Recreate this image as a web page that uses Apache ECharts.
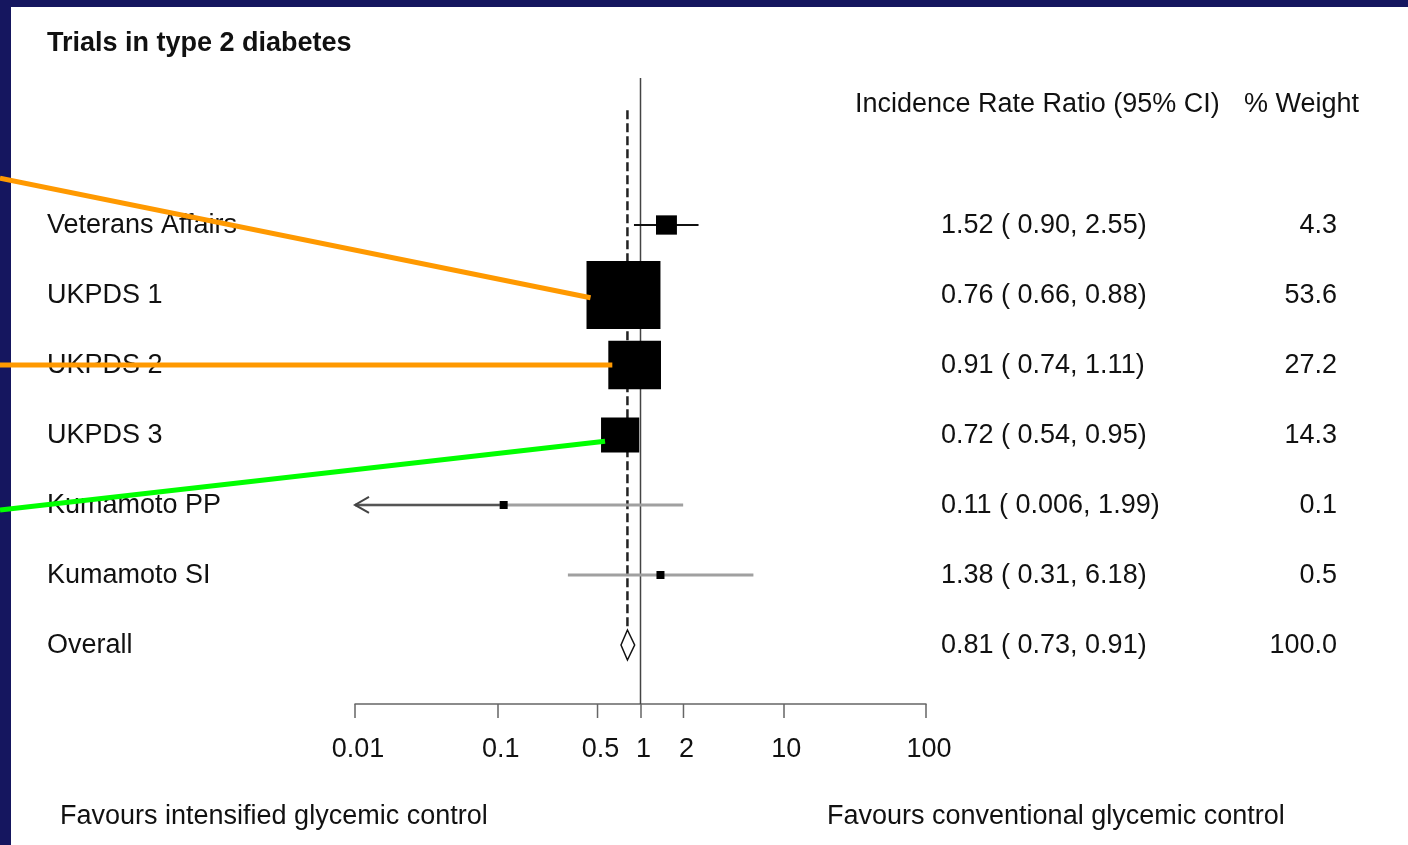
<!DOCTYPE html>
<html>
<head>
<meta charset="utf-8">
<script src="https://cdn.jsdelivr.net/npm/echarts@6/dist/echarts.min.js"></script>
<style>
  html, body { margin: 0; padding: 0; background: #15165f; overflow: hidden; }
  #panel { position: absolute; left: 11px; top: 7px; width: 1397px; height: 838px; background: #ffffff; }
  #chart { position: absolute; left: 0; top: 0; width: 1408px; height: 845px; }
</style>
</head>
<body>
<div id="panel"></div>
<div id="chart"></div>
<script>
// ---------------- data ----------------
const studies = ['Veterans Affairs', 'UKPDS 1', 'UKPDS 2', 'UKPDS 3', 'Kumamoto PP', 'Kumamoto SI'];
const irr     = [1.52, 0.76, 0.91, 0.72, 0.11, 1.38];
const lower   = [0.90, 0.66, 0.74, 0.54, 0.006, 0.31];
const upper   = [2.55, 0.88, 1.11, 0.95, 1.99, 6.18];
const weight  = [4.3, 53.6, 27.2, 14.3, 0.1, 0.5];

const overallLabel  = 'Overall';
const overallIrr    = 0.81;
const overallLower  = 0.73;
const overallUpper  = 0.91;
const overallWeight = 100.0;

const extraTicks = [0.5, 2];          // ticks besides the powers of ten
const nullValue  = 1;                 // line of no effect

const titleText   = 'Trials in type 2 diabetes';
const headerIrr   = 'Incidence Rate Ratio (95% CI)';
const headerW     = '% Weight';
const favoursLeft  = 'Favours intensified glycemic control';
const favoursRight = 'Favours conventional glycemic control';

// annotation pointers (overlay lines pointing at study boxes)
const annotTarget  = [1, 2, 3];              // study index pointed at
const annotFromRow = [-0.67, 2.0, 4.07];     // row position at the left edge
const annotToDRow  = [0.04, 0.0, 0.09];      // row offset at the box end
const annotColor   = ['#ff9900', '#ff9900', '#00ff00'];

// ---------------- layout ----------------
const FONT_FAMILY = '"Liberation Sans", Arial, Helvetica, sans-serif';
const FS = 27;
const FONT = FS + 'px ' + FONT_FAMILY;
const XMIN = 0.01, XMAX = 100;
const ROW_MIN = -2.1, ROW_MAX = 6.843;
const DASH_TOP_ROW = -1.64;
const TICK_LEN = 14, LABEL_MARGIN = 32;
const BOX_KW = 10.1, BOX_KH = 9.3, BOX_MINW = 8, BOX_MINH = 8;
const DIAMOND_HALF = 15;
const COL_LABEL = 47, COL_IRR = 941, COL_W = 1337;
const TEXT_DY = 1;

function fmt(v) { return v < 0.01 ? v.toFixed(3) : v.toFixed(2); }
function ciText(e, l, u) { return fmt(e) + ' ( ' + fmt(l) + ', ' + fmt(u) + ')'; }

function rowTexts(label, e, l, u, w, y) {
  return [
    { type: 'text', style: { text: label, x: COL_LABEL, y: y + TEXT_DY, align: 'left', verticalAlign: 'middle', font: FONT, fill: '#111' } },
    { type: 'text', style: { text: ciText(e, l, u), x: COL_IRR, y: y + TEXT_DY, align: 'left', verticalAlign: 'middle', font: FONT, fill: '#111' } },
    { type: 'text', style: { text: w.toFixed(1), x: COL_W, y: y + TEXT_DY, align: 'right', verticalAlign: 'middle', font: FONT, fill: '#111' } }
  ];
}

function boxSize(w) {
  return [Math.max(BOX_KW * Math.sqrt(w), BOX_MINW), Math.max(BOX_KH * Math.sqrt(w), BOX_MINH)];
}

function renderStudy(params, api) {
  const i = params.dataIndex;
  const e = api.value(0), row = api.value(1), l = api.value(2), u = api.value(3), w = api.value(4);
  const c = api.coord([e, row]);
  const pl = api.coord([Math.max(l, XMIN), row]);
  const pu = api.coord([Math.min(u, XMAX), row]);
  const sz = boxSize(w);
  const small = w < 1;
  const children = [];
  children.push({ type: 'line', shape: { x1: pl[0], y1: c[1], x2: pu[0], y2: c[1] },
    style: { stroke: small ? '#a0a0a0' : '#111', lineWidth: small ? 3 : 2 } });
  if (l < XMIN) {
    children.push({ type: 'line', shape: { x1: pl[0], y1: c[1], x2: c[0] - sz[0] / 2, y2: c[1] },
      style: { stroke: '#555', lineWidth: 2 } });
    children.push({ type: 'polyline', shape: { points: [[pl[0] + 14, c[1] - 8], [pl[0], c[1]], [pl[0] + 14, c[1] + 8]] },
      style: { stroke: '#444', lineWidth: 2, fill: null } });
  }
  children.push({ type: 'rect', shape: { x: c[0] - sz[0] / 2, y: c[1] - sz[1] / 2, width: sz[0], height: sz[1] },
    style: { fill: '#000' } });
  return { type: 'group', children: children.concat(rowTexts(studies[i], e, l, u, w, c[1])) };
}

function renderOverall(params, api) {
  const e = api.value(0), row = api.value(1), l = api.value(2), u = api.value(3), w = api.value(4);
  const c = api.coord([e, row]);
  const pl = api.coord([l, row]);
  const pu = api.coord([u, row]);
  const top = api.coord([e, DASH_TOP_ROW]);
  return { type: 'group', children: [
    { type: 'line', shape: { x1: c[0], y1: top[1], x2: c[0], y2: c[1] - DIAMOND_HALF },
      style: { stroke: '#222', lineWidth: 2.5, lineDash: [9, 4] } },
    { type: 'polygon', shape: { points: [[pl[0], c[1]], [c[0], c[1] - DIAMOND_HALF], [pu[0], c[1]], [c[0], c[1] + DIAMOND_HALF]] },
      style: { fill: '#fff', stroke: '#111', lineWidth: 1.5 } }
  ].concat(rowTexts(overallLabel, e, l, u, w, c[1])) };
}

function renderNullLine(params, api) {
  const v = api.value(0);
  const a = api.coord([v, ROW_MIN]);
  const b = api.coord([v, ROW_MAX]);
  return { type: 'line', shape: { x1: a[0], y1: a[1], x2: b[0], y2: b[1] },
    style: { stroke: '#444', lineWidth: 1.5 } };
}

function renderTick(params, api) {
  const v = api.value(0);
  const p = api.coord([v, ROW_MAX]);
  return { type: 'group', children: [
    { type: 'line', shape: { x1: p[0], y1: p[1], x2: p[0], y2: p[1] + TICK_LEN }, style: { stroke: '#666', lineWidth: 1.5 } },
    { type: 'text', style: { text: String(v), x: p[0] + 3, y: p[1] + LABEL_MARGIN, align: 'center', verticalAlign: 'top', font: FONT, fill: '#111' } }
  ] };
}

function renderAnnot(params, api) {
  const k = params.dataIndex;
  const s = annotTarget[k];
  const sz = boxSize(weight[s]);
  const end = api.coord([irr[s], s + annotToDRow[k]]);
  const start = api.coord([irr[s], annotFromRow[k]]);
  return { type: 'line', shape: { x1: 0, y1: start[1], x2: end[0] - sz[0] / 2 + 4, y2: end[1] },
    style: { stroke: annotColor[k], lineWidth: 5 } };
}

const studyData = studies.map((s, i) => [irr[i], i, lower[i], upper[i], weight[i]]);
const overallData = [[overallIrr, studies.length, overallLower, overallUpper, overallWeight]];

const chart = echarts.init(document.getElementById('chart'), null, { renderer: 'canvas' });
chart.setOption({
  backgroundColor: 'transparent',
  animation: false,
  title: {
    text: titleText, left: 47, top: 30, padding: 0,
    textStyle: { fontFamily: FONT_FAMILY, fontSize: FS, fontWeight: 'bold', color: '#111' }
  },
  grid: { left: 355, right: 482, top: 78, bottom: 141 },
  xAxis: {
    type: 'log', logBase: 10, min: XMIN, max: XMAX,
    axisLine: { show: true, onZero: false, lineStyle: { color: '#666', width: 1.5 } },
    axisTick: { show: true, length: TICK_LEN, lineStyle: { color: '#666', width: 1.5 } },
    minorTick: { show: false },
    splitLine: { show: false },
    axisLabel: { margin: LABEL_MARGIN, fontFamily: FONT_FAMILY, fontSize: FS, color: '#111',
      padding: [0, 0, 0, 6],
      formatter: v => String(+(+v).toPrecision(4)) }
  },
  yAxis: { type: 'value', inverse: true, min: ROW_MIN, max: ROW_MAX, show: false },
  graphic: [
    { type: 'text', x: 855, y: 105, style: { text: headerIrr, font: FONT, fill: '#111', align: 'left', verticalAlign: 'middle' } },
    { type: 'text', x: 1244, y: 105, style: { text: headerW, font: FONT, fill: '#111', align: 'left', verticalAlign: 'middle' } },
    { type: 'text', x: 60, y: 817, style: { text: favoursLeft, font: FONT, fill: '#111', align: 'left', verticalAlign: 'middle' } },
    { type: 'text', x: 827, y: 817, style: { text: favoursRight, font: FONT, fill: '#111', align: 'left', verticalAlign: 'middle' } }
  ],
  series: [
    { type: 'custom', name: 'null', renderItem: renderNullLine, data: [[nullValue, 0]], encode: { x: 0, y: 1 }, z: 2, silent: true },
    { type: 'custom', name: 'ticks', renderItem: renderTick, data: extraTicks.map(t => [t, ROW_MAX]), encode: { x: 0, y: 1 }, z: 2, silent: true },
    { type: 'custom', name: 'overall', renderItem: renderOverall, data: overallData, encode: { x: 0, y: 1 }, z: 3, silent: true },
    { type: 'custom', name: 'studies', renderItem: renderStudy, data: studyData, encode: { x: 0, y: 1 }, z: 4, silent: true },
    { type: 'custom', name: 'pointers', renderItem: renderAnnot, data: annotTarget.map((s, k) => [irr[s], s]), encode: { x: 0, y: 1 }, z: 10, silent: true }
  ]
});
</script>
</body>
</html>
